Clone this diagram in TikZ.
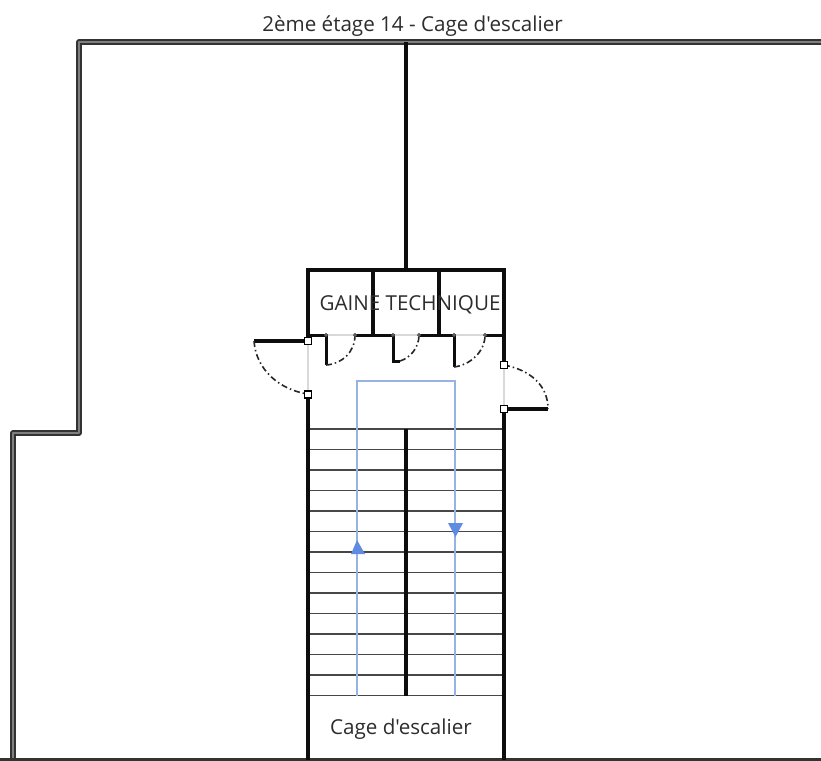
\documentclass[tikz,border=0pt]{standalone}
\usepackage{fontspec}
\newfontfamily\plainfont{Open Sans}
\definecolor{planblue}{RGB}{150,180,225}
\definecolor{tipblue}{RGB}{95,140,225}
\definecolor{txt}{RGB}{45,45,45}
\tikzset{
  wall/.style={line width=3.4pt,black!95,line join=miter},
  thin wall/.style={line width=3pt,black!95},
  outer/.style={line width=5.4pt,black!80,line join=round},
  outer core/.style={line width=1.2pt,black!50,line join=round},
  stair/.style={line width=1.7pt,black!72},
  opening/.style={line width=1.2pt,black!15},
  swing/.style={line width=1.6pt,black!85,dash pattern=on 6pt off 3pt on 1.5pt off 3pt},
  grip/.style={draw=black,line width=1.2pt,fill=white,minimum size=7pt,inner sep=0pt,rectangle},
  pin/.style={draw=black!70,line width=.8pt,fill=black!40,minimum size=3pt,inner sep=0pt,circle},
  flow/.style={line width=1.8pt,planblue},
  tip/.style={fill=tipblue,draw=none},
  label/.style={text=txt,inner sep=0pt,font=\plainfont\fontsize{20.6}{24}\selectfont}
}
\begin{document}
\begin{tikzpicture}[x=1pt,y=-1pt]
\useasboundingbox (0,0) rectangle (821,760);
\fill[white] (0,0) rectangle (821,760);
% outer wall
\draw[outer] (821,42) -- (79,42) -- (79,433) -- (13,433) -- (13,760);
\draw[outer core] (821,42) -- (79,42) -- (79,433) -- (13,433) -- (13,760);
\draw[line width=2.4pt,black!80] (0,759.5) -- (821,759.5);
% partition up
\draw[wall] (406,42) -- (406,270);
% treads
\foreach \i in {0,...,13} {
  \pgfmathsetmacro{\yy}{429+20.5*\i}
  \draw[stair] (308,\yy) -- (504,\yy);
}
% light openings
\draw[opening] (308,335) -- (504,335);
\draw[opening] (308,341) -- (308,394);
\draw[opening] (504,365) -- (504,409);
% blue path
\draw[flow] (357,696) -- (357,381) -- (455,381) -- (455,696);
\fill[tip] (357,540) -- (351,554) -- (365,554) -- cycle;
\fill[tip] (448,523) -- (463,523) -- (455.5,537) -- cycle;
% walls
\draw[wall] (308,341) -- (308,270) -- (504,270) -- (504,365);
\draw[wall] (308,394) -- (308,760);
\draw[wall] (504,409) -- (504,760);
\draw[wall] (373,270) -- (373,335);
\draw[wall] (439,270) -- (439,335);
\draw[wall] (406,429) -- (406,696);
\draw[thin wall] (308,335) -- (326,335) -- (326,365);
\draw[thin wall] (355,335) -- (393,335) -- (393,361) -- (400,361);
\draw[thin wall] (419,335) -- (454,335) -- (454,367);
\draw[thin wall] (485,335) -- (504,335);
% door leaves
\draw[wall] (254,341) -- (308,341);
\draw[wall] (504,409) -- (548,409);
% swings
\draw[swing] (254,341) .. controls (256,370) and (280,390) .. (308,394);
\draw[swing] (504,365) .. controls (530,370) and (548,385) .. (548,409);
\draw[swing] (326,365) .. controls (342,364) and (355,352) .. (355,335);
\draw[swing] (400,361) .. controls (410,358) and (419,348) .. (419,335);
\draw[swing] (454,367) .. controls (470,365) and (485,352) .. (485,335);
% grips
\foreach \x/\n in {326/a,355/b,393/c,419/d,454/e,485/f} \node[pin] (p\n) at (\x,335) {};
\node[grip] (g1) at (308,341) {};
\node[grip] (g2) at (308,394.5) {};
\node[grip] (g3) at (504,365) {};
\node[grip] (g4) at (504,409) {};
% texts
\node[label] (title) at (412.5,26) {2ème étage 14 - Cage d'escalier};
\node[label] (gaine) at (410,304.5) {GAINE TECHNIQUE};
\node[label] (cage) at (401,729.5) {Cage d'escalier};
\end{tikzpicture}
\end{document}
